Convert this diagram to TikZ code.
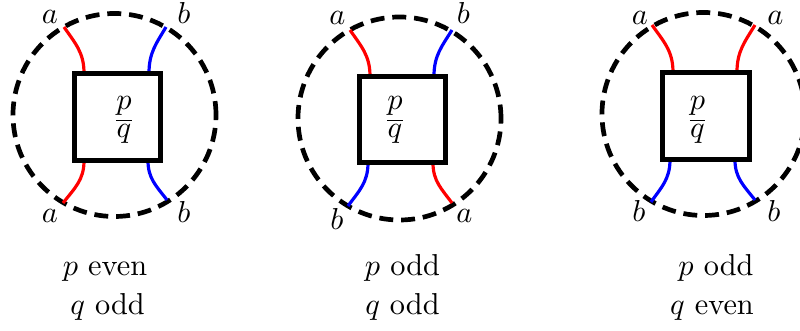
\documentclass[tikz,border=0pt]{standalone}
\begin{document}
\tikzset{
  ring/.style={draw, circle, dash pattern=on 4.6pt off 2.6pt, line width=1.55pt, minimum size=67pt, inner sep=0pt},
  boxsq/.style={draw, rectangle, line width=1.65pt, minimum size=28.7pt, inner sep=0pt, fill=white},
  redstrand/.style={draw=red, line width=1.05pt},
  bluestrand/.style={draw=blue, line width=1.05pt},
  lbl/.style={anchor=base, inner sep=0pt},
}
\begin{tikzpicture}[x=0.33pt, y=-0.33pt]
\useasboundingbox (0,0) rectangle (800,331);

% ---------- diagram 1 ----------
\node[ring] (o1) at (114.5,115) {};
\coordinate (s1a) at (84,73);   \coordinate (e1a) at (64,27);
\coordinate (s1b) at (149,73);  \coordinate (e1b) at (166,27);
\coordinate (s1c) at (84,161);  \coordinate (e1c) at (63,203);
\coordinate (s1d) at (148,161); \coordinate (e1d) at (167,200);
\draw[redstrand]  (s1a) .. controls (84,52.3) and (75,43.1) .. (e1a);
\draw[bluestrand] (s1b) .. controls (149,52.3) and (156.6,43.1) .. (e1b);
\draw[redstrand]  (s1c) .. controls (84,179.9) and (74.6,188.3) .. (e1c);
\draw[bluestrand] (s1d) .. controls (148,178.6) and (156.6,186.4) .. (e1d);
\node[boxsq] (q1) at (117.5,117) {};
\node[lbl] (p1) at (124,110) {$\underline{p}$};
\node[lbl] (d1) at (124,138) {$q$};
\node[lbl] at (50,24) {$a$};
\node[lbl] at (184,24) {$b$};
\node[lbl] at (50,223) {$a$};
\node[lbl] at (184,223) {$b$};
\node[lbl] at (105,276) {$p$ even};
\node[lbl] at (107.5,315) {$q$ odd};

% ---------- diagram 2 ----------
\node[ring] (o2) at (399.5,118.5) {};
\coordinate (s2a) at (370,76);  \coordinate (e2a) at (350,30);
\coordinate (s2b) at (434,76);  \coordinate (e2b) at (452,30);
\coordinate (s2c) at (368,163); \coordinate (e2c) at (348,206);
\coordinate (s2d) at (433,163); \coordinate (e2d) at (452,203);
\draw[redstrand]  (s2a) .. controls (370,55.3) and (361,46.1) .. (e2a);
\draw[bluestrand] (s2b) .. controls (434,55.3) and (442.1,46.1) .. (e2b);
\draw[bluestrand] (s2c) .. controls (368,182.4) and (359,191) .. (e2c);
\draw[redstrand]  (s2d) .. controls (433,181) and (441.6,189) .. (e2d);
\node[boxsq] (q2) at (402.5,119.5) {};
\node[lbl] (p2) at (395,110) {$\underline{p}$};
\node[lbl] (d2) at (395,138) {$q$};
\node[lbl] at (337.5,25) {$a$};
\node[lbl] at (463.5,24) {$b$};
\node[lbl] at (337,230) {$b$};
\node[lbl] at (464.5,223) {$a$};
\node[lbl] at (402.5,276) {$p$ odd};
\node[lbl] at (402.5,315) {$q$ odd};

% ---------- diagram 3 ----------
\node[ring] (o3) at (703.5,114) {};
\coordinate (s3a) at (673,72);  \coordinate (e3a) at (652,25);
\coordinate (s3b) at (737,72);  \coordinate (e3b) at (755,25);
\coordinate (s3c) at (670,160); \coordinate (e3c) at (651,202);
\coordinate (s3d) at (735,160); \coordinate (e3d) at (755,200);
\draw[redstrand]  (s3a) .. controls (673,50.9) and (663.6,41.5) .. (e3a);
\draw[redstrand]  (s3b) .. controls (737,50.9) and (745.1,41.5) .. (e3b);
\draw[bluestrand] (s3c) .. controls (670,178.9) and (661.5,187.3) .. (e3c);
\draw[bluestrand] (s3d) .. controls (735,178) and (744,186) .. (e3d);
\node[boxsq] (q3) at (706,116) {};
\node[lbl] (p3) at (697.5,110) {$\underline{p}$};
\node[lbl] (d3) at (697.5,138) {$q$};
\node[lbl] at (640,25) {$a$};
\node[lbl] at (775.5,25) {$a$};
\node[lbl] at (639,222) {$b$};
\node[lbl] at (774,222) {$b$};
\node[lbl] at (716,276) {$p$ odd};
\node[lbl] at (712,315) {$q$ even};
\end{tikzpicture}
\end{document}
